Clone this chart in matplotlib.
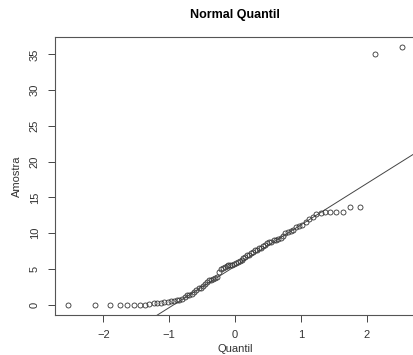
from statistics import NormalDist
import numpy as np
import matplotlib.pyplot as plt

plt.rcParams["font.family"] = ["Liberation Sans", "DejaVu Sans"]

amostra = [
    0.0, 0.0, 0.0, 0.0, 0.0, 0.0, 0.0, 0.0, 0.1, 0.2,
    0.3, 0.3, 0.4, 0.4, 0.5, 0.5, 0.6, 0.7, 0.8, 1.1,
    1.3, 1.4, 1.5, 1.8, 2.1, 2.3, 2.4, 2.6, 2.9, 3.2,
    3.4, 3.5, 3.6, 3.7, 3.9, 4.6, 5.0, 5.2, 5.3, 5.4,
    5.5, 5.6, 5.6, 5.7, 5.8, 6.0, 6.1, 6.3, 6.5, 6.7,
    6.9, 7.0, 7.2, 7.4, 7.6, 7.7, 7.9, 8.0, 8.2, 8.4,
    8.6, 8.7, 8.8, 9.0, 9.1, 9.25, 9.35, 9.6, 10.0, 10.1,
    10.3, 10.5, 10.8, 11.0, 11.2, 11.5, 12.0, 12.3, 12.7, 12.8,
    12.9, 13.0, 13.0, 13.0, 13.7, 13.7, 35.0, 36.0,
]

y = np.sort(np.array(amostra))
n = len(y)
nd = NormalDist()
# theoretical quantiles as in R's qqnorm (ppoints with a = 0.5)
x = np.array([nd.inv_cdf((i - 0.5) / n) for i in range(1, n + 1)])

# qqline through the first and third quartiles
q1, q3 = np.quantile(y, [0.25, 0.75])
z1, z3 = nd.inv_cdf(0.25), nd.inv_cdf(0.75)
slope = (q3 - q1) / (z3 - z1)
inter = q1 - slope * z1

fig = plt.figure(figsize=(4.14, 3.55), dpi=100)
ax = fig.add_axes([55 / 414, 40 / 355, 360 / 414, 278 / 355])

ax.plot(x, y, "o", mfc="none", mec="#333333", ms=3.6, mew=0.6)
xl = np.array([-3.0, 3.0])
ax.plot(xl, inter + slope * xl, color="#444444", lw=0.7)

xr = x.max() - x.min()
yr = y.max() - y.min()
ax.set_xlim(x.min() - 0.04 * xr, x.max() + 0.04 * xr)
ax.set_ylim(y.min() - 0.04 * yr, y.max() + 0.04 * yr)

ax.set_xticks([-2, -1, 0, 1, 2])
ax.set_yticks([0, 5, 10, 15, 20, 25, 30, 35])
ax.tick_params(direction="out", length=5, width=0.7, color="#444444",
               labelsize=8, labelcolor="#333333", pad=6)
for lab in ax.get_yticklabels():
    lab.set_rotation(90)
    lab.set_va("center")
for s in ax.spines.values():
    s.set_color("#555555")
    s.set_linewidth(0.8)

fig.text(235 / 414, 1 - 15 / 355, "Normal Quantil", ha="center", va="center",
         fontsize=9, fontweight="bold")
fig.text(17 / 414, 1 - 176 / 355, "Amostra", ha="center", va="center",
         rotation=90, fontsize=8, color="#333333")
fig.text(235 / 414, 1 - 344 / 355, "Quantil", ha="center", va="top",
         fontsize=8, color="#333333")

fig.savefig("out.png", dpi=100)
